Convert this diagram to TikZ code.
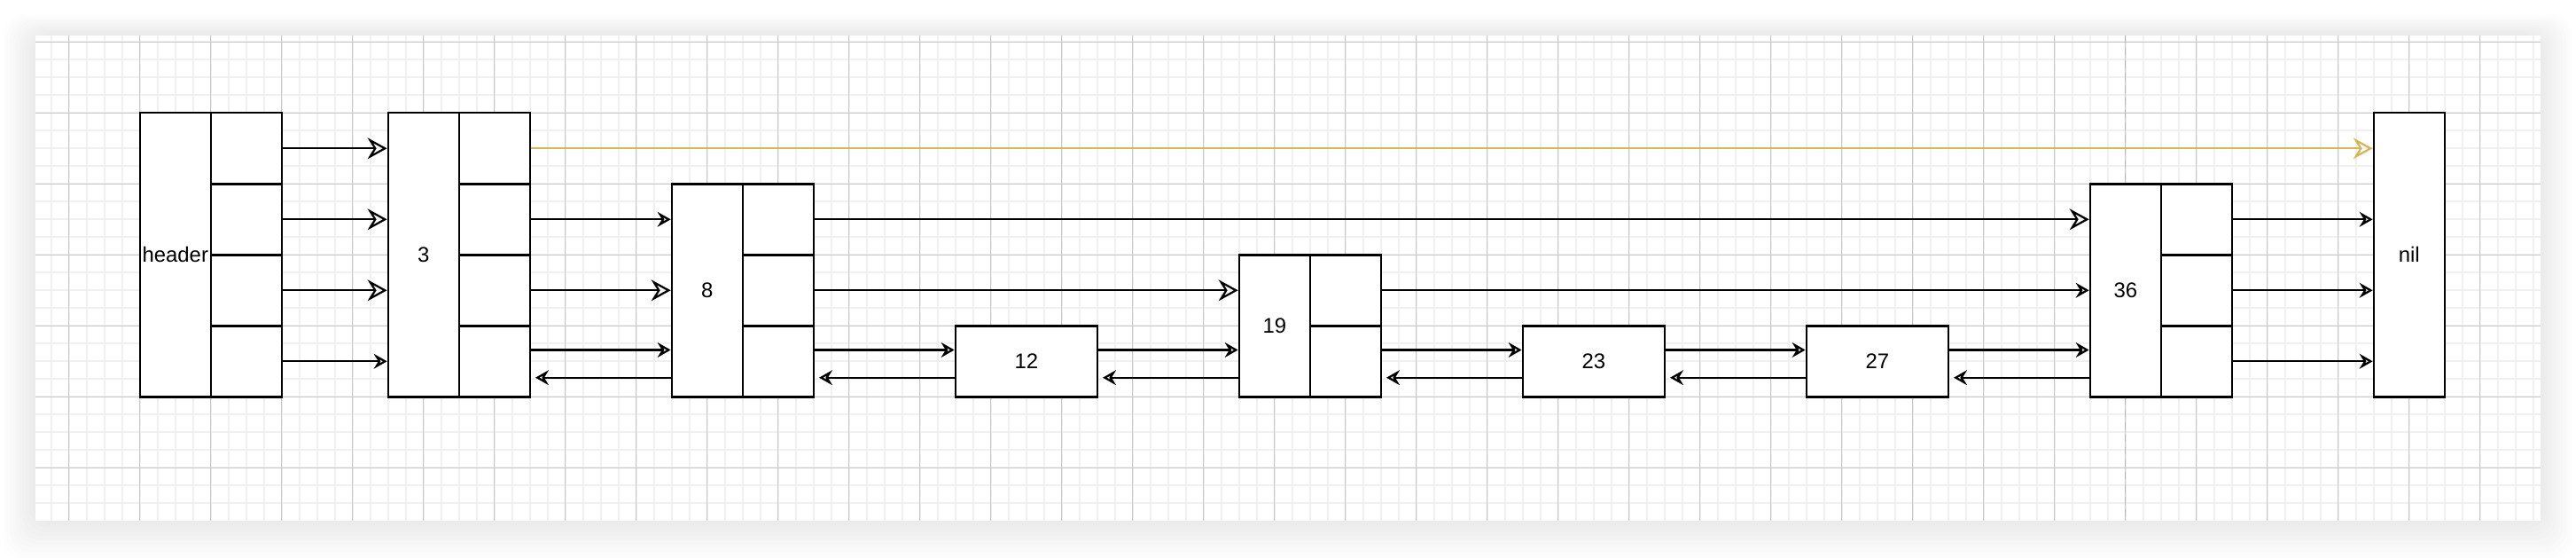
\documentclass[tikz,border=0pt]{standalone}
\usepackage{fontspec}
\setmainfont{Liberation Sans}
\usepackage{tikz}
\usetikzlibrary{arrows.meta}

\definecolor{goldline}{RGB}{214,182,86}
\definecolor{minorgrid}{RGB}{240,240,240}
\definecolor{majorgrid}{RGB}{200,200,200}

\begin{document}
\begin{tikzpicture}[
		box/.style={shape=rectangle, draw=black, fill=white, line width=0.85pt, inner sep=0pt, font=\fontsize{8.5}{10}\selectfont},
		keybox/.style={box, minimum width=1cm},
		cell/.style={box, minimum width=1cm, minimum height=1cm},
		small/.style={line width=0.8pt, -{Stealth[open, length=5.3pt, width=6pt, inset=1.8pt]}},
		big/.style={line width=0.8pt, -{Stealth[open, length=7.8pt, width=8.5pt, inset=2.6pt]}},
		back/.style={small, shorten >=1.8pt}]
		\useasboundingbox (-0.9725,-7.25875) rectangle (35.3525,0.59125);
		\fill[white] (-0.9725,-7.25875) rectangle (35.3525,0.59125);
		
		% canvas with its shadow and grid
		\foreach \i in {1,...,10}
			\fill[black, opacity=0.007, rounded corners=3mm] (-0.4725-0.045*\i,-6.74625-0.055*\i) rectangle (34.8525+0.045*\i,0.09125+0.03*\i);
		\fill[white] (-0.4725,-6.74625) rectangle (34.8525,0.09125);
		\draw[minorgrid, line width=0.6pt, step=0.25] (-0.4725,-6.74625) grid (34.8525,0.09125);
		\draw[majorgrid, line width=0.35pt, step=1] (-0.4725,-6.74625) grid (34.8525,0.09125);
		\draw[majorgrid!90!black, line width=0.4pt, dash pattern=on 3pt off 2pt] (29,0.09125) -- (29,-6.74625);
		
		\node[keybox, minimum height=4cm] (hdr) at (1.5,-3) {header};
		\node[cell] (hdr1) at (2.5,-1.5) {};
		\node[cell] (hdr2) at (2.5,-2.5) {};
		\node[cell] (hdr3) at (2.5,-3.5) {};
		\node[cell] (hdr4) at (2.5,-4.5) {};
		
		\node[keybox, minimum height=4cm] (n3) at (5,-3) {3};
		\node[cell] (n3c1) at (6,-1.5) {};
		\node[cell] (n3c2) at (6,-2.5) {};
		\node[cell] (n3c3) at (6,-3.5) {};
		\node[cell] (n3c4) at (6,-4.5) {};
		
		\node[keybox, minimum height=3cm] (n8) at (9,-3.5) {8};
		\node[cell] (n8c1) at (10,-2.5) {};
		\node[cell] (n8c2) at (10,-3.5) {};
		\node[cell] (n8c3) at (10,-4.5) {};
		
		\node[cell, minimum width=2cm] (n12) at (13.5,-4.5) {12};
		
		\node[keybox, minimum height=2cm] (n19) at (17,-4) {19};
		\node[cell] (n19c1) at (18,-3.5) {};
		\node[cell] (n19c2) at (18,-4.5) {};
		
		\node[cell, minimum width=2cm] (n23) at (21.5,-4.5) {23};
		\node[cell, minimum width=2cm] (n27) at (25.5,-4.5) {27};
		
		\node[keybox, minimum height=3cm] (n36) at (29,-3.5) {36};
		\node[cell] (n36c1) at (30,-2.5) {};
		\node[cell] (n36c2) at (30,-3.5) {};
		\node[cell] (n36c3) at (30,-4.5) {};
		
		\node[keybox, minimum height=4cm] (nil) at (33,-3) {nil};
		
		% bottom level: forward and backward lanes
		\coordinate (fw) at (0,-4.34);
		\coordinate (bw) at (0,-4.73);
		
		\path[big] (hdr1.east) edge (n3.west |- hdr1.east);
		\path[big] (hdr2.east) edge (n3.west |- hdr2.east);
		\path[big] (hdr3.east) edge (n3.west |- hdr3.east);
		\path[small] (hdr4.east) edge (n3.west |- hdr4.east);
		
		\path[big, color=goldline] (n3c1.east) edge (nil.west |- n3c1.east);
		\path[small] (n3c2.east) edge (n8.west |- n3c2.east);
		\path[big] (n3c3.east) edge (n8.west |- n3c3.east);
		\path[small] (n3c4.east |- fw) edge (n8.west |- fw);
		\path[back] (n8.west |- bw) edge (n3c4.east |- bw);
		
		\path[big] (n8c1.east) edge (n36.west |- n8c1.east);
		\path[big] (n8c2.east) edge (n19.west |- n8c2.east);
		\path[small] (n8c3.east |- fw) edge (n12.west |- fw);
		\path[back] (n12.west |- bw) edge (n8c3.east |- bw);
		
		\path[small] (n12.east |- fw) edge (n19.west |- fw);
		\path[back] (n19.west |- bw) edge (n12.east |- bw);
		
		\path[small] (n19c1.east) edge (n36.west |- n19c1.east);
		\path[small] (n19c2.east |- fw) edge (n23.west |- fw);
		\path[back] (n23.west |- bw) edge (n19c2.east |- bw);
		
		\path[small] (n23.east |- fw) edge (n27.west |- fw);
		\path[back] (n27.west |- bw) edge (n23.east |- bw);
		
		\path[small] (n27.east |- fw) edge (n36.west |- fw);
		\path[back] (n36.west |- bw) edge (n27.east |- bw);
		
		\path[small] (n36c1.east) edge (nil.west |- n36c1.east);
		\path[small] (n36c2.east) edge (nil.west |- n36c2.east);
		\path[small] (n36c3.east) edge (nil.west |- n36c3.east);
		
	\end{tikzpicture}
\end{document}
